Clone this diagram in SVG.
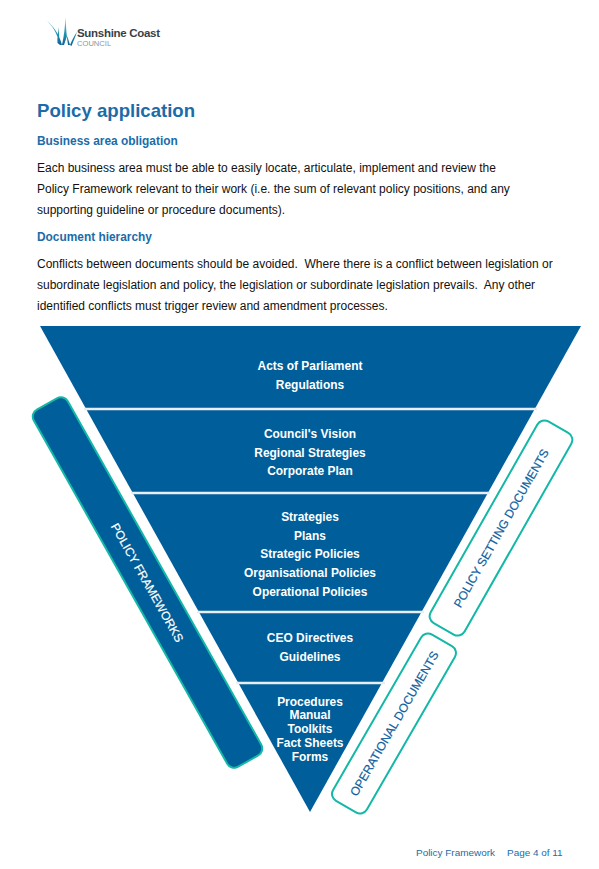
<svg xmlns="http://www.w3.org/2000/svg" width="599" height="869" viewBox="0 0 599 869">
<defs><linearGradient id="g" x1="0" y1="0" x2="0" y2="1"><stop offset="0" stop-color="#7fd0cf"/><stop offset=".6" stop-color="#1f8fb0"/><stop offset="1" stop-color="#0b5f93"/></linearGradient></defs>
<style>
text{font-family:"Liberation Sans",Arial,sans-serif;white-space:pre}
.b{font-size:12px;fill:#111}
.h{font-size:11.9px;font-weight:bold;fill:#1b6ca8}
.t{font-size:11.95px;font-weight:bold;fill:#fff;text-anchor:middle}
.s{fill:#fff;stroke:#14b8a6;stroke-width:2}
.l{font-size:12px;fill:#0e5f9e;stroke:#0e5f9e;stroke-width:.2;text-anchor:middle}
.div{stroke:#e8eef3;stroke-width:2.4}
.f{font-size:9.95px;fill:#1b6ca8}
</style>
<rect width="599" height="869" fill="#fff"/>
<g id="logo">
<path d="M47 21 C52 26 57 32 60 45 L62 45 C59 33 53 26 47 21Z M60 45 C59 38 59 33 59 27 C58 33 57 38 57.500 43Z M62 45 C64 36 65 27 65.500 17 C66 27 66.500 36 68 45 L70 45 C68 38 67 36 67 36 L64 45Z M70 45 C72 40 74 36 77 32 C75 38 73 42 71.500 46Z" fill="url(#g)"/>
<text x="77" y="37" font-size="11.5" font-weight="bold" fill="#3a3f45" letter-spacing="-.3">Sunshine Coast</text>
<text x="77" y="46" font-size="7.600" fill="#8f959a">COUNCIL</text>
</g>
<g id="page-text">
<text x="37" y="117" font-size="18.6" font-weight="bold" fill="#1b6ca8">Policy application</text>
<text class="h" x="37" y="145">Business area obligation</text>
<text class="b" x="37" y="172">Each business area must be able to easily locate, articulate, implement and review the</text>
<text class="b" x="37" y="193">Policy Framework relevant to their work (i.e. the sum of relevant policy positions, and any</text>
<text class="b" x="37" y="214">supporting guideline or procedure documents).</text>
<text class="h" x="37" y="241">Document hierarchy</text>
<text class="b" x="37" y="268">Conflicts between documents should be avoided.  Where there is a conflict between legislation or</text>
<text class="b" x="37" y="289">subordinate legislation and policy, the legislation or subordinate legislation prevails.  Any other</text>
<text class="b" x="37" y="310">identified conflicts must trigger review and amendment processes.</text>
</g>
<g id="pyramid">
<polygon points="40,326 581,326 310,812" fill="#005f9a"/>
<line class="div" x1="84" y1="409" x2="537" y2="409"/>
<line class="div" x1="131" y1="493" x2="490" y2="493"/>
<line class="div" x1="197" y1="612" x2="424" y2="612"/>
<line class="div" x1="236" y1="683" x2="385" y2="683"/>
</g>
<g id="level-1"><text class="t" x="310" y="370">Acts of Parliament</text><text class="t" x="310" y="389">Regulations</text></g>
<g id="level-2"><text class="t" x="310" y="438">Council's Vision</text><text class="t" x="310" y="457">Regional Strategies</text><text class="t" x="310" y="475">Corporate Plan</text></g>
<g id="level-3"><text class="t" x="310" y="521">Strategies</text><text class="t" x="310" y="540">Plans</text><text class="t" x="310" y="558">Strategic Policies</text><text class="t" x="310" y="577">Organisational Policies</text><text class="t" x="310" y="596">Operational Policies</text></g>
<g id="level-4"><text class="t" x="310" y="642">CEO Directives</text><text class="t" x="310" y="661">Guidelines</text></g>
<g id="level-5"><text class="t" x="310" y="706">Procedures</text><text class="t" x="310" y="719">Manual</text><text class="t" x="310" y="733">Toolkits</text><text class="t" x="310" y="747">Fact Sheets</text><text class="t" x="310" y="761">Forms</text></g>
<g id="policy-frameworks" transform="translate(147.5 582.5) rotate(60.6)">
<rect x="-205" y="-19.5" width="410" height="39" rx="8" fill="#005f9a" stroke="#14b8a6" stroke-width="2"/>
<text x="0" y="4.5" font-size="12" fill="#fff" stroke="#fff" stroke-width=".2" text-anchor="middle">POLICY FRAMEWORKS</text>
</g>
<g id="policy-setting" transform="translate(501 528) rotate(-60.4)">
<rect class="s" x="-116" y="-19.5" width="232" height="39" rx="8"/>
<text class="l" x="0" y="4.500">POLICY SETTING DOCUMENTS</text>
</g>
<g id="operational" transform="translate(394 723.5) rotate(-60)">
<rect class="s" x="-96" y="-19.5" width="192" height="39" rx="8"/>
<text class="l" x="0" y="4.500">OPERATIONAL DOCUMENTS</text>
</g>
<g id="footer">
<text class="f" x="416" y="856">Policy Framework</text>
<text class="f" x="507" y="856">Page 4 of 11</text>
</g>
</svg>
